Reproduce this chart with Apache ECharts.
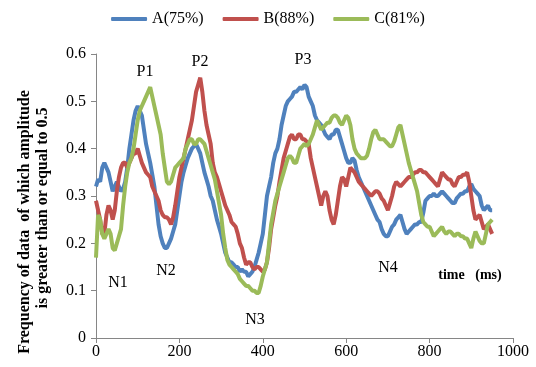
<!DOCTYPE html>
<html>
<head>
<meta charset="utf-8">
<script src="https://cdn.jsdelivr.net/npm/echarts@6/dist/echarts.min.js"></script>
<style>
  html, body { margin: 0; padding: 0; background: #fff; }
  #chart { width: 536px; height: 367px; }
</style>
</head>
<body>
<div id="chart"></div>
<script>
// time axis (ms), 5 ms step
const times = []
for (let t = 0; t <= 950; t += 5) times.push(t)

const seriesNames = ['A(75%)', 'B(88%)', 'C(81%)']

const valuesA = [
  0.32, 0.335, 0.33, 0.36, 0.37, 0.36, 0.35, 0.33, 0.31, 0.32,
  0.33, 0.32, 0.31, 0.315, 0.33, 0.36, 0.40, 0.43, 0.46, 0.48,
  0.49, 0.48, 0.47, 0.44, 0.41, 0.39, 0.37, 0.345, 0.32, 0.28,
  0.24, 0.215, 0.20, 0.19, 0.19, 0.20, 0.21, 0.225, 0.24, 0.27,
  0.30, 0.33, 0.35, 0.365, 0.38, 0.39, 0.40, 0.405, 0.41, 0.40,
  0.39, 0.37, 0.35, 0.335, 0.32, 0.30, 0.29, 0.27, 0.25, 0.235,
  0.22, 0.20, 0.18, 0.17, 0.16, 0.16, 0.155, 0.15, 0.15, 0.14,
  0.145, 0.14, 0.14, 0.13, 0.135, 0.14, 0.15, 0.165, 0.18, 0.20,
  0.22, 0.26, 0.30, 0.32, 0.34, 0.37, 0.39, 0.40, 0.42, 0.45,
  0.47, 0.49, 0.50, 0.505, 0.51, 0.52, 0.52, 0.525, 0.53, 0.525,
  0.535, 0.53, 0.51, 0.50, 0.49, 0.47, 0.46, 0.455, 0.45, 0.44,
  0.43, 0.425, 0.42, 0.43, 0.43, 0.44, 0.44, 0.425, 0.41, 0.395,
  0.38, 0.37, 0.37, 0.38, 0.375, 0.355, 0.34, 0.33, 0.32, 0.31,
  0.30, 0.29, 0.28, 0.27, 0.26, 0.25, 0.245, 0.23, 0.22, 0.215,
  0.215, 0.225, 0.235, 0.24, 0.25, 0.255, 0.26, 0.245, 0.23, 0.22,
  0.225, 0.23, 0.235, 0.24, 0.24, 0.245, 0.245, 0.265, 0.29, 0.295,
  0.30, 0.30, 0.305, 0.30, 0.30, 0.305, 0.31, 0.305, 0.30, 0.295,
  0.29, 0.285, 0.285, 0.295, 0.30, 0.305, 0.305, 0.31, 0.31, 0.32,
  0.325, 0.315, 0.31, 0.305, 0.30, 0.28, 0.27, 0.275, 0.28, 0.27,
  0.27
]

const valuesB = [
  0.29, 0.27, 0.25, 0.22, 0.22, 0.26, 0.28, 0.27, 0.25, 0.27,
  0.31, 0.34, 0.36, 0.37, 0.37, 0.36, 0.37, 0.38, 0.39, 0.39,
  0.40, 0.385, 0.37, 0.36, 0.35, 0.345, 0.34, 0.32, 0.31, 0.30,
  0.29, 0.27, 0.26, 0.255, 0.255, 0.25, 0.24, 0.255, 0.28, 0.31,
  0.34, 0.36, 0.38, 0.40, 0.42, 0.44, 0.46, 0.49, 0.52, 0.535,
  0.55, 0.52, 0.48, 0.45, 0.43, 0.41, 0.37, 0.35, 0.34, 0.325,
  0.31, 0.295, 0.28, 0.27, 0.26, 0.245, 0.24, 0.235, 0.22, 0.20,
  0.19, 0.17, 0.155, 0.16, 0.16, 0.15, 0.145, 0.15, 0.15, 0.145,
  0.14, 0.145, 0.16, 0.19, 0.23, 0.255, 0.28, 0.30, 0.33, 0.355,
  0.38, 0.395, 0.41, 0.425, 0.43, 0.42, 0.42, 0.43, 0.43, 0.42,
  0.42, 0.415, 0.41, 0.38, 0.36, 0.34, 0.32, 0.30, 0.28, 0.30,
  0.31, 0.30, 0.27, 0.25, 0.24, 0.26, 0.29, 0.32, 0.34, 0.335,
  0.32, 0.34, 0.36, 0.355, 0.35, 0.34, 0.33, 0.325, 0.32, 0.315,
  0.31, 0.305, 0.30, 0.305, 0.31, 0.31, 0.305, 0.295, 0.29, 0.28,
  0.27, 0.285, 0.30, 0.32, 0.33, 0.325, 0.32, 0.325, 0.33, 0.335,
  0.34, 0.34, 0.345, 0.35, 0.35, 0.355, 0.355, 0.35, 0.35, 0.345,
  0.34, 0.335, 0.33, 0.325, 0.32, 0.335, 0.35, 0.345, 0.34, 0.335,
  0.335, 0.325, 0.32, 0.33, 0.34, 0.34, 0.345, 0.345, 0.35, 0.33,
  0.30, 0.27, 0.25, 0.255, 0.26, 0.245, 0.23, 0.235, 0.24, 0.23,
  0.22
]

const valuesC = [
  0.17, 0.26, 0.25, 0.22, 0.21, 0.22, 0.23, 0.22, 0.19, 0.185,
  0.20, 0.215, 0.23, 0.28, 0.32, 0.35, 0.37, 0.38, 0.40, 0.43,
  0.46, 0.48, 0.49, 0.50, 0.51, 0.52, 0.53, 0.51, 0.49, 0.47,
  0.45, 0.43, 0.39, 0.36, 0.33, 0.325, 0.33, 0.345, 0.36, 0.365,
  0.37, 0.375, 0.38, 0.40, 0.41, 0.42, 0.42, 0.41, 0.41, 0.42,
  0.42, 0.415, 0.41, 0.395, 0.38, 0.365, 0.35, 0.335, 0.31, 0.285,
  0.26, 0.22, 0.19, 0.165, 0.155, 0.15, 0.145, 0.14, 0.135, 0.125,
  0.12, 0.115, 0.11, 0.11, 0.105, 0.10, 0.10, 0.095, 0.095, 0.11,
  0.13, 0.145, 0.16, 0.20, 0.24, 0.265, 0.29, 0.305, 0.32, 0.335,
  0.35, 0.365, 0.38, 0.385, 0.38, 0.37, 0.37, 0.385, 0.40, 0.405,
  0.41, 0.405, 0.41, 0.42, 0.43, 0.445, 0.46, 0.45, 0.44, 0.445,
  0.45, 0.455, 0.455, 0.465, 0.47, 0.47, 0.465, 0.455, 0.45, 0.46,
  0.47, 0.465, 0.45, 0.42, 0.40, 0.39, 0.385, 0.38, 0.38, 0.38,
  0.385, 0.40, 0.42, 0.435, 0.44, 0.43, 0.42, 0.42, 0.42, 0.415,
  0.41, 0.405, 0.405, 0.415, 0.43, 0.445, 0.45, 0.43, 0.41, 0.39,
  0.37, 0.355, 0.34, 0.325, 0.31, 0.285, 0.26, 0.245, 0.24, 0.235,
  0.235, 0.225, 0.215, 0.22, 0.225, 0.23, 0.235, 0.225, 0.22, 0.225,
  0.225, 0.22, 0.215, 0.22, 0.22, 0.215, 0.215, 0.21, 0.21, 0.20,
  0.19, 0.21, 0.225, 0.215, 0.205, 0.20, 0.20, 0.22, 0.24, 0.245,
  0.25
]

const xTicks = [0, 200, 400, 600, 800, 1000]
const yTicks = [0, 0.1, 0.2, 0.3, 0.4, 0.5, 0.6]

const colors = ['#4F81BD', '#C0504D', '#9BBB59']
const serif = '"Liberation Serif", "DejaVu Serif", serif'

function pairs(vals) {
  return times.map((t, i) => [t, vals[i]])
}

// peak / trough labels, pixel positions
const notes = [
  { text: 'P1', x: 145, y: 72 },
  { text: 'P2', x: 200, y: 62 },
  { text: 'P3', x: 303, y: 60 },
  { text: 'N1', x: 118, y: 283 },
  { text: 'N2', x: 166, y: 271 },
  { text: 'N3', x: 255, y: 320 },
  { text: 'N4', x: 388, y: 268 }
]

const yTitle = ['Frequency of data  of which amplitude', 'is greater than or equal to 0.5']

const chart = echarts.init(document.getElementById('chart'))
chart.setOption({
  animation: false,
  color: colors,
  legend: {
    top: 6,
    left: 'center',
    itemWidth: 36,
    itemHeight: 4,
    itemGap: 19,
    icon: 'roundRect',
    textStyle: { fontFamily: serif, fontSize: 16, color: '#000' },
    data: seriesNames
  },
  grid: { left: 96, right: 23, top: 54, bottom: 29 },
  xAxis: {
    type: 'value',
    min: xTicks[0],
    max: xTicks[xTicks.length - 1],
    interval: 200,
    axisLine: { lineStyle: { color: '#868686' } },
    axisTick: { show: true, length: 5, lineStyle: { color: '#868686' } },
    axisLabel: { fontFamily: serif, fontSize: 16, color: '#000', margin: 6, formatter: v => String(v) },
    splitLine: { show: false }
  },
  yAxis: {
    type: 'value',
    min: yTicks[0],
    max: yTicks[yTicks.length - 1],
    interval: 0.1,
    axisLine: { show: true, lineStyle: { color: '#868686' } },
    axisTick: { show: true, length: 5, lineStyle: { color: '#868686' } },
    axisLabel: {
      fontFamily: serif, fontSize: 16, color: '#000', margin: 10,
      formatter: v => (v === 0 ? '0' : v.toFixed(1))
    },
    splitLine: { show: false }
  },
  graphic: notes.map(n => ({
    type: 'text',
    x: n.x,
    y: n.y,
    style: { text: n.text, font: '16px ' + serif, fill: '#000', align: 'center', verticalAlign: 'middle' }
  })).concat([
    {
      type: 'text', x: 470, y: 275,
      style: { text: 'time   (ms)', font: 'bold 14px ' + serif, fill: '#000', align: 'center', verticalAlign: 'middle' }
    },
    {
      type: 'text', x: 25, y: 222, rotation: Math.PI / 2,
      style: { text: yTitle[0], font: 'bold 16px ' + serif, fill: '#000', align: 'center', verticalAlign: 'middle' }
    },
    {
      type: 'text', x: 43, y: 208, rotation: Math.PI / 2,
      style: { text: yTitle[1], font: 'bold 16px ' + serif, fill: '#000', align: 'center', verticalAlign: 'middle' }
    }
  ]),
  series: [
    { name: seriesNames[0], type: 'line', data: pairs(valuesA), showSymbol: false, lineStyle: { width: 4 } },
    { name: seriesNames[1], type: 'line', data: pairs(valuesB), showSymbol: false, lineStyle: { width: 4 } },
    { name: seriesNames[2], type: 'line', data: pairs(valuesC), showSymbol: false, lineStyle: { width: 4 } }
  ]
})
</script>
</body>
</html>
